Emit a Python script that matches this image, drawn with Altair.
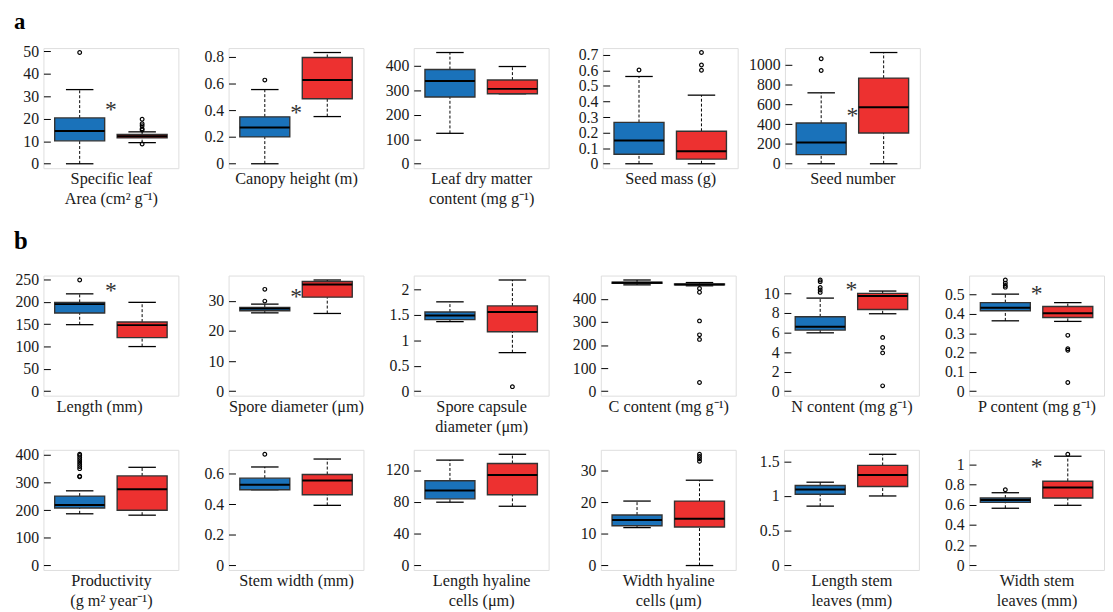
import altair as alt
import pandas as pd

FONT = "Liberation Serif"
BLUE_COLOR = "#1a72ba"
RED_COLOR = "#ed3130"
GROUPS = ["Group 1", "Group 2"]

TITLES = [
    ["Specific leaf", "Area (cm² g⁻¹)"],
    ["Canopy height (m)"],
    ["Leaf dry matter", "content (mg g⁻¹)"],
    ["Seed mass (g)"],
    ["Seed number"],
    ["Length (mm)"],
    ["Spore diameter (μm)"],
    ["Spore capsule", "diameter (μm)"],
    ["C content (mg g⁻¹)"],
    ["N content (mg g⁻¹)"],
    ["P content (mg g⁻¹)"],
    ["Productivity", "(g m² year⁻¹)"],
    ["Stem width (mm)"],
    ["Length hyaline", "cells (μm)"],
    ["Width hyaline", "cells (μm)"],
    ["Length stem", "leaves (mm)"],
    ["Width stem", "leaves (mm)"],
]

# [lower whisker, q1, median, q3, upper whisker]
BLUE_STATS = [
    [0, 10.2, 14.6, 20.4, 33.0],
    [0, 0.201, 0.272, 0.351, 0.555],
    [124, 272, 337, 384, 453],
    [0, 0.061, 0.150, 0.266, 0.561],
    [0, 93, 216, 412, 718],
    [149, 175, 195, 199, 218],
    [26.0, 26.7, 27.4, 27.8, 28.9],
    [1.37, 1.41, 1.49, 1.56, 1.76],
    [460, 467, 469, 471, 481],
    [5.97, 6.25, 6.59, 7.61, 9.52],
    [0.364, 0.416, 0.431, 0.458, 0.502],
    [187, 208, 219, 251, 270],
    [0.496, 0.496, 0.528, 0.572, 0.645],
    [79.6, 83.8, 94.3, 106.5, 132.5],
    [12.0, 12.6, 14.4, 16.0, 20.4],
    [0.854, 1.024, 1.094, 1.151, 1.198],
    [0.565, 0.623, 0.646, 0.666, 0.718],
]
RED_STATS = [
    [9.4, 11.5, 12.2, 13.0, 14.2],
    [0.353, 0.486, 0.626, 0.795, 0.832],
    [285, 285, 305, 341, 396],
    [0, 0.030, 0.080, 0.209, 0.441],
    [0, 312, 571, 867, 1126],
    [100, 120, 148, 155, 199],
    [25.8, 31.2, 35.4, 36.4, 36.9],
    [0.76, 1.17, 1.56, 1.68, 2.19],
    [456, 460, 462, 464, 470],
    [7.92, 8.36, 9.73, 10.0, 10.24],
    [0.361, 0.381, 0.403, 0.438, 0.458],
    [182, 200, 276, 324, 355],
    [0.394, 0.463, 0.557, 0.596, 0.697],
    [74.5, 89.0, 113.8, 128.3, 139.8],
    [0, 12.2, 14.8, 20.4, 27.0],
    [1.0, 1.137, 1.302, 1.439, 1.599],
    [0.594, 0.666, 0.769, 0.831, 1.078],
]
BLUE_OUTLIERS = [
    [49.5], [0.626], [], [0.603], [944, 1063],
    [249], [29.9, 33.8], [], [], [10.1, 10.35, 10.6, 11.2, 11.37],
    [0.538, 0.547, 0.559, 0.575],
    [321, 323, 350, 358, 366, 374, 382, 390, 398, 402], [0.728], [], [], [], [0.747],
]
RED_OUTLIERS = [
    [8.8, 15.0, 15.6, 16.9, 17.8, 19.8], [], [], [0.601, 0.635, 0.715], [],
    [], [], [0.09], [38, 224, 244, 304, 428, 444], [0.55, 3.92, 4.47, 5.5],
    [0.045, 0.212, 0.22, 0.289],
    [], [], [], [33.0, 33.8, 34.5, 35.2], [], [1.097],
]
Y_TICKS = [
    [0, 10, 20, 30, 40, 50],
    [0, 0.2, 0.4, 0.6, 0.8],
    [0, 100, 200, 300, 400],
    [0, 0.1, 0.2, 0.3, 0.4, 0.5, 0.6, 0.7],
    [0, 200, 400, 600, 800, 1000],
    [0, 50, 100, 150, 200, 250],
    [0, 10, 20, 30],
    [0, 0.5, 1, 1.5, 2],
    [0, 100, 200, 300, 400],
    [0, 2, 4, 6, 8, 10],
    [0, 0.1, 0.2, 0.3, 0.4, 0.5],
    [0, 100, 200, 300, 400],
    [0, 0.2, 0.4, 0.6],
    [0, 40, 80, 120],
    [0, 10, 20, 30],
    [0, 0.5, 1, 1.5],
    [0, 0.2, 0.4, 0.6, 0.8, 1],
]
STAR_Y = [25.5, 0.407, None, None, 518, 232, 32.5, None, None, 10.7, 0.525,
          None, None, None, None, None, 1.006]
STAR_X = 1.5

# layout (not data): rows of panels, label per row, left axis extents, title nudges
ROWS = [[0, 1, 2, 3, 4], [5, 6, 7, 8, 9, 10], [11, 12, 13, 14, 15, 16]]
ROW_LABELS = ["a", "b", None]
ROW_EXTENTS = [[37, 51, 51, 55, 48], [37, 51, 51, 53, 49, 51], [37, 51, 51, 53, 49, 51]]
TITLE_DX = {5: -12}

PW, PH = 137, 122
BOX_HALF = 0.4
CAP_HALF = 0.22


def panel(i, min_ext, label=None):
    stats = [BLUE_STATS[i], RED_STATS[i]]
    outs = [BLUE_OUTLIERS[i], RED_OUTLIERS[i]]
    allv = [v for s in stats for v in s] + [v for o in outs for v in o]
    m = max(allv)
    ydom = [-0.04 * m, 1.04 * m]
    xs = alt.Scale(domain=[0.42, 2.58], nice=False, zero=False)
    ys = alt.Scale(domain=ydom, nice=False, zero=False)
    xkw = {}
    if i in TITLE_DX:
        xkw = {"titleX": PW / 2 + TITLE_DX[i]}
    xaxis = alt.Axis(title=TITLES[i], labels=False, ticks=False, domain=False, grid=False,
                     titleFont=FONT, titleFontSize=16.5, titleFontWeight="normal",
                     titleColor="#1a1a1a", titlePadding=3, titleLineHeight=20, minExtent=0,
                     **xkw)
    yaxis = alt.Axis(title=None, values=Y_TICKS[i], format=".6~g", offset=-7, tickSize=7,
                     tickColor="#000", tickWidth=1, labelPadding=5, domain=False, grid=False,
                     labelFont=FONT, labelFontSize=16, labelColor="#1a1a1a",
                     labelOverlap=False, minExtent=min_ext)

    def X(f):
        return alt.X(f, type="quantitative", scale=xs, axis=xaxis)

    def Y(f):
        return alt.Y(f, type="quantitative", scale=ys, axis=yaxis)

    box_rows, wh_rows, cap_rows, out_rows = [], [], [], []
    for g, (st, ol) in enumerate(zip(stats, outs)):
        pos = g + 1
        lo, q1, med, q3, hi = st
        box_rows.append({"grp": GROUPS[g], "pos": pos, "xl": pos - BOX_HALF, "xr": pos + BOX_HALF,
                         "q1": q1, "med": med, "q3": q3})
        wh_rows.append({"pos": pos, "a": lo, "b": q1})
        wh_rows.append({"pos": pos, "a": q3, "b": hi})
        cap_rows.append({"xl": pos - CAP_HALF, "xr": pos + CAP_HALF, "v": lo})
        cap_rows.append({"xl": pos - CAP_HALF, "xr": pos + CAP_HALF, "v": hi})
        for v in ol:
            out_rows.append({"pos": pos, "v": v})
    df_box = pd.DataFrame(box_rows)
    df_wh = pd.DataFrame(wh_rows)
    df_cap = pd.DataFrame(cap_rows)
    df_out = pd.DataFrame(out_rows, columns=["pos", "v"])

    whisk = alt.Chart(df_wh).mark_rule(color="#000", strokeWidth=1, strokeDash=[3, 2]).encode(
        x=X("pos"), y=Y("a"), y2="b")
    caps = alt.Chart(df_cap).mark_rule(color="#000", strokeWidth=1.3).encode(
        x=X("xl"), x2="xr", y=Y("v"))
    boxes = alt.Chart(df_box).mark_rect(stroke="#333333", strokeWidth=1.4).encode(
        x=X("xl"), x2="xr", y=Y("q1"), y2="q3",
        color=alt.Color("grp:N", scale=alt.Scale(domain=GROUPS, range=[BLUE_COLOR, RED_COLOR]),
                        legend=None))
    meds = alt.Chart(df_box).mark_rule(color="#000", strokeWidth=2).encode(
        x=X("xl"), x2="xr", y=Y("med"))
    outl = alt.Chart(df_out).mark_point(shape="circle", filled=False, color="#000",
                                        size=14, strokeWidth=1.2, opacity=1).encode(
        x=X("pos"), y=Y("v"))
    layers = [whisk, caps, boxes, meds, outl]
    if STAR_Y[i] is not None:
        df_star = pd.DataFrame({"pos": [STAR_X], "v": [STAR_Y[i]], "t": ["*"]})
        layers.append(alt.Chart(df_star).mark_text(font=FONT, fontSize=24, color="#333",
                                                   baseline="alphabetic", dy=11).encode(
            x=X("pos"), y=Y("v"), text="t:N"))
    if label is not None:
        df_lab = pd.DataFrame({"t": [label]})
        if label == "a":
            fs, ly = 23, -19
        else:
            fs, ly = 25, -27
        layers.append(alt.Chart(df_lab).mark_text(font=FONT, fontSize=fs, fontWeight="bold",
                                                  color="#000", align="left",
                                                  baseline="alphabetic").encode(
            x=alt.value(-30), y=alt.value(ly), text="t:N"))
    return alt.layer(*layers).properties(width=PW, height=PH)


rows = []
for r, idxs in enumerate(ROWS):
    panels = [panel(i, ROW_EXTENTS[r][k], ROW_LABELS[r] if k == 0 else None)
              for k, i in enumerate(idxs)]
    rows.append(alt.hconcat(*panels, spacing=5))

chart = alt.vconcat(rows[0], alt.vconcat(rows[1], rows[2], spacing=11), spacing=21).properties(
    padding={"left": 5, "top": -2, "right": 0, "bottom": 0}
).configure_view(stroke="#000", strokeWidth=1.8).configure(background="white")

chart.save("out.html", embed_options={"renderer": "svg", "actions": False})
